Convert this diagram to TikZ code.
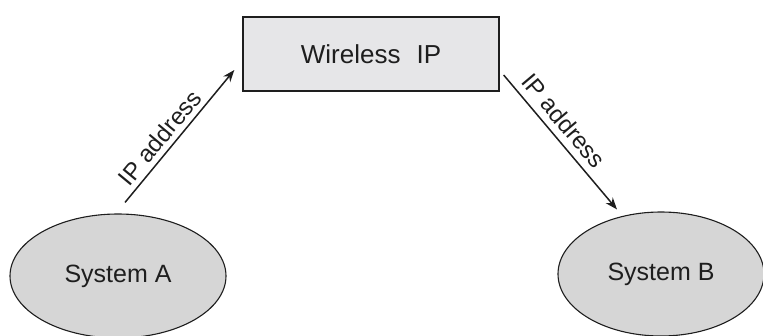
\documentclass[tikz,border=0pt]{standalone}
\usepackage{fontspec}
\setmainfont{Liberation Sans}
\usetikzlibrary{shapes.geometric,arrows.meta}
\definecolor{boxgray}{HTML}{E6E6E8}
\definecolor{ovalgray}{HTML}{D6D6D6}
\definecolor{inkgray}{HTML}{1E1E1E}
\begin{document}
\begin{tikzpicture}[x=1pt,y=-1pt,
  every node/.style={text=inkgray},
  server/.style={draw=inkgray,line width=1.3pt,fill=boxgray,rectangle,
    minimum width=256pt,minimum height=74pt,inner sep=0pt,font=\fontsize{26}{29}\selectfont},
  host/.style={draw=inkgray,line width=1.1pt,fill=ovalgray,ellipse,
    minimum width=216pt,minimum height=124pt,inner sep=0pt,font=\fontsize{25}{28}\selectfont},
  link/.style={draw=inkgray,line width=1.5pt,-{Stealth[length=12pt,width=9pt]}},
  tag/.style={font=\fontsize{24}{27}\selectfont,inner sep=5pt}]
\useasboundingbox (0,0) rectangle (763,336);
\node[server] (W) at (371,54) {Wireless\hspace{16pt}IP};
\node[host] (A) at (118,276) {System A};
\node[host,minimum width=206pt] (B) at (661,274) {System B};
\draw[link] ([xshift=7pt,yshift=11pt]A.north) -- ([xshift=-8pt,yshift=-16pt]W.west)
  node[pos=0.42,sloped,above,tag] (la) {IP address};
\draw[link] ([xshift=4pt,yshift=-21pt]W.east) -- ([xshift=-44pt,yshift=2pt]B.north)
  node[pos=0.42,sloped,above,tag,inner sep=7pt] (lb) {IP address};
\end{tikzpicture}
\end{document}
